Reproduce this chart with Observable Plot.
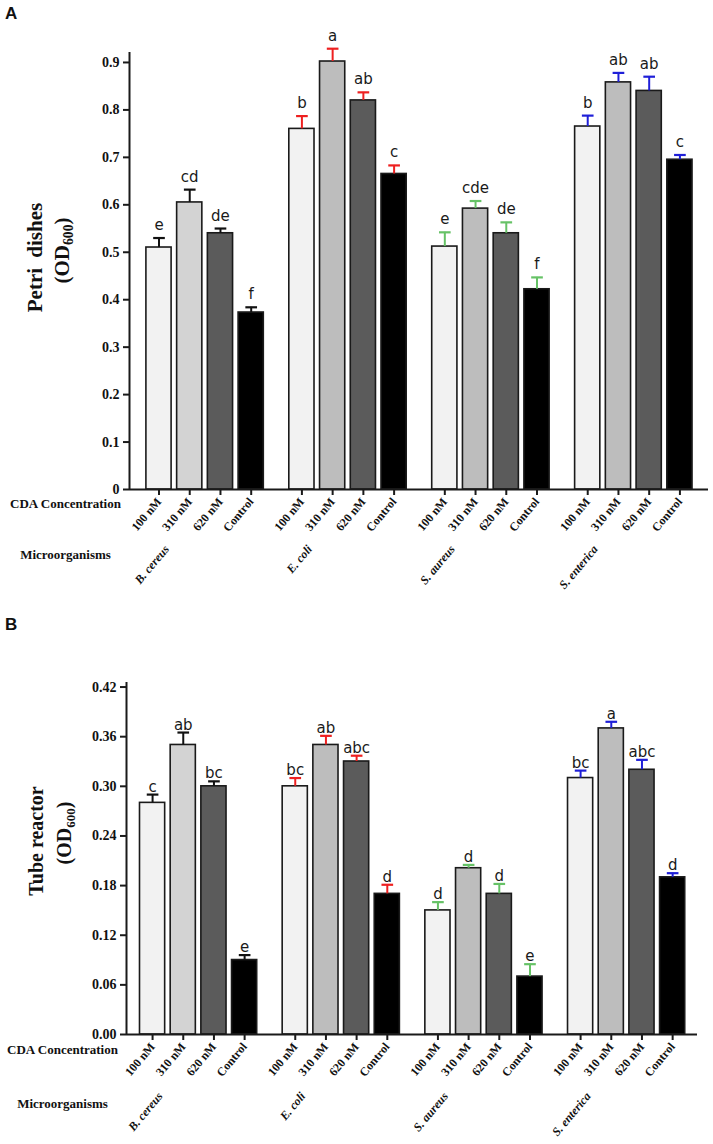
<!DOCTYPE html>
<html><head><meta charset="utf-8">
<script src="https://cdn.jsdelivr.net/npm/d3@7"></script>
<script src="https://cdn.jsdelivr.net/npm/@observablehq/plot@0.6"></script>
<style>
body{margin:0;background:#fff;width:713px;height:1144px;position:relative;overflow:hidden}
.panel{position:absolute;left:0}
.plabel{position:absolute;font:bold 17px "Liberation Sans",Arial,sans-serif;color:#111}
</style></head><body>
<div id="A" class="panel" style="top:0"></div>
<div id="B" class="panel" style="top:590px"></div>
<div class="plabel" style="left:5px;top:4px">A</div>
<div class="plabel" style="left:5px;top:615px">B</div>
<script>
// ---- data ----
const organisms = ["B. cereus", "E. coli", "S. aureus", "S. enterica"];
const concentrations = ["100 nM", "310 nM", "620 nM", "Control"];

const petriMeans = [
  [0.510, 0.605, 0.540, 0.373],
  [0.760, 0.902, 0.820, 0.665],
  [0.512, 0.592, 0.540, 0.422],
  [0.765, 0.858, 0.840, 0.695]
];
const petriErrors = [
  [0.020, 0.027, 0.010, 0.011],
  [0.027, 0.027, 0.017, 0.018],
  [0.030, 0.016, 0.023, 0.025],
  [0.023, 0.020, 0.030, 0.010]
];
const petriLetters = [
  ["e", "cd", "de", "f"],
  ["b", "a", "ab", "c"],
  ["e", "cde", "de", "f"],
  ["b", "ab", "ab", "c"]
];

const tubeMeans = [
  [0.280, 0.350, 0.300, 0.090],
  [0.300, 0.350, 0.330, 0.170],
  [0.150, 0.201, 0.170, 0.070],
  [0.310, 0.370, 0.320, 0.190]
];
const tubeErrors = [
  [0.010, 0.015, 0.006, 0.006],
  [0.010, 0.011, 0.007, 0.011],
  [0.010, 0.004, 0.012, 0.015],
  [0.009, 0.008, 0.012, 0.005]
];
const tubeLetters = [
  ["c", "ab", "bc", "e"],
  ["bc", "ab", "abc", "d"],
  ["d", "d", "d", "e"],
  ["bc", "a", "abc", "d"]
];

const petriTicks = [0, 0.1, 0.2, 0.3, 0.4, 0.5, 0.6, 0.7, 0.8, 0.9];
const tubeTicks = [0, 0.06, 0.12, 0.18, 0.24, 0.30, 0.36, 0.42];

// ---- styles ----
const concFills = ["#f2f2f2", "#bdbdbd", "#5b5b5b", "#000000"];
const cereus310Fill = "#d3d3d3";
const errorColors = ["#111111", "#ee2020", "#66c266", "#1f1fd8"];
const GROUP_STEP = 4.65;
const SERIF = '"Liberation Serif","Times New Roman",serif';

function buildRows(means, errs, letters) {
  return organisms.flatMap((org, k) => concentrations.map((conc, i) => ({
    org, conc,
    pos: k * GROUP_STEP + i,
    value: means[k][i],
    err: errs[k][i],
    top: means[k][i] + errs[k][i],
    letter: letters[k][i],
    fill: (k === 0 && i === 1) ? cereus310Fill : concFills[i],
    errColor: errorColors[k]
  })));
}

function chart(o) {
  const data = o.data;
  const labelAt = new Map(data.map(d => [d.pos, d.conc]));
  const orgRows = organisms.map((org, k) => ({org, pos: k * GROUP_STEP + 0.35}));
  const plot = Plot.plot({
    width: 713, height: o.height,
    marginTop: o.marginTop, marginBottom: o.marginBottom,
    marginLeft: o.marginLeft, marginRight: o.marginRight,
    style: {fontFamily: SERIF, fontWeight: "bold", background: "white", overflow: "visible", color: "#111"},
    x: {type: "linear", domain: o.xDomain, axis: null},
    y: {domain: o.yDomain, axis: null},
    marks: [
      Plot.rect(data, {x1: d => d.pos - 0.41, x2: d => d.pos + 0.41, y1: 0, y2: "value",
        fill: "fill", stroke: "#1a1a1a", strokeWidth: 1.6}),
      Plot.ruleX(data, {x: "pos", y1: "value", y2: "top", stroke: "errColor", strokeWidth: 2}),
      Plot.link(data, {x1: d => d.pos - 0.19, x2: d => d.pos + 0.19, y1: "top", y2: "top",
        stroke: "errColor", strokeWidth: 2.2}),
      Plot.text(data, {x: "pos", y: "top", text: "letter", lineAnchor: "bottom", dy: o.letterDy,
        fontFamily: '"DejaVu Sans",Verdana,sans-serif', fontWeight: "normal", fontSize: 15, fill: "#1a1a1a"}),
      Plot.ruleY([0], {stroke: "#1a1a1a", strokeWidth: 2}),
      Plot.ruleX([o.xDomain[0]], {stroke: "#1a1a1a", strokeWidth: 2}),
      Plot.axisY({ticks: o.yTicks, tickFormat: o.yFormat, tickSize: 6, tickPadding: 4, label: null,
        fontSize: 14, fontWeight: "bold", stroke: "#1a1a1a", strokeWidth: 2}),
      Plot.axisX({ticks: data.map(d => d.pos), tickFormat: d => labelAt.get(d), tickRotate: -50, label: null,
        tickSize: 6, tickPadding: 4, fontSize: 12, fontWeight: "bold", stroke: "#1a1a1a", strokeWidth: 2}),
      Plot.text(orgRows, {x: "pos", text: "org", frameAnchor: "bottom", dy: o.orgDy, rotate: -50,
        textAnchor: "end", fontStyle: "italic", fontWeight: "bold", fontSize: 12}),
      Plot.text(["CDA Concentration"], {frameAnchor: "bottom-left", dx: -64, dy: o.cdaDy,
        textAnchor: "middle", fontWeight: "bold", fontSize: 13}),
      Plot.text(["Microorganisms"], {frameAnchor: "bottom-left", dx: -64, dy: o.microDy,
        textAnchor: "middle", fontWeight: "bold", fontSize: 13})
    ]
  });
  // two-line y-axis title with subscript
  const svg = d3.select(plot.tagName.toLowerCase() === "svg" ? plot : plot.querySelector("svg"));
  const cy = (o.marginTop + (o.height - o.marginBottom)) / 2;
  svg.append("text")
    .attr("transform", `translate(${o.marginLeft - o.title1Dx},${cy + o.title1Dy}) rotate(-90)`)
    .attr("text-anchor", "middle").attr("dominant-baseline", "central")
    .attr("font-family", SERIF).attr("font-weight", "bold").attr("font-size", o.titleSize)
    .attr("word-spacing", o.wordSpacing).attr("fill", "#111")
    .text(o.title);
  const t2 = svg.append("text")
    .attr("transform", `translate(${o.marginLeft - o.title2Dx},${cy + o.title2Dy}) rotate(-90)`)
    .attr("text-anchor", "middle").attr("dominant-baseline", "central")
    .attr("font-family", SERIF).attr("font-weight", "bold").attr("font-size", o.titleSize).attr("fill", "#111");
  t2.append("tspan").text("(OD");
  t2.append("tspan").attr("dy", 6).attr("font-size", o.titleSize * 0.65).text("600");
  t2.append("tspan").attr("dy", -6).text(")");
  return plot;
}

document.getElementById("A").appendChild(chart({
  data: buildRows(petriMeans, petriErrors, petriLetters),
  height: 590, marginTop: 52, marginBottom: 101, marginLeft: 129, marginRight: 5,
  xDomain: [-0.96, 3 * GROUP_STEP + 3 + 0.93],
  yDomain: [0, 0.921], yTicks: petriTicks, yFormat: d => d === 0 ? "0" : d3.format(".1f")(d),
  letterDy: -8, orgDy: 60, cdaDy: 18, microDy: 69,
  title: "Petri dishes", wordSpacing: 5, titleSize: 21,
  title1Dx: 94, title1Dy: -13, title2Dx: 67, title2Dy: -20
}));

document.getElementById("B").appendChild(chart({
  data: buildRows(tubeMeans, tubeErrors, tubeLetters),
  height: 554, marginTop: 92, marginBottom: 110, marginLeft: 126, marginRight: 16,
  xDomain: [-0.85, 3 * GROUP_STEP + 3 + 0.81],
  yDomain: [0, 0.4255], yTicks: tubeTicks, yFormat: d3.format(".2f"),
  letterDy: -3, orgDy: 62, cdaDy: 19, microDy: 73,
  title: "Tube reactor", wordSpacing: 0, titleSize: 20,
  title1Dx: 90, title1Dy: -17, title2Dx: 62, title2Dy: -25
}));
</script>
</body></html>
